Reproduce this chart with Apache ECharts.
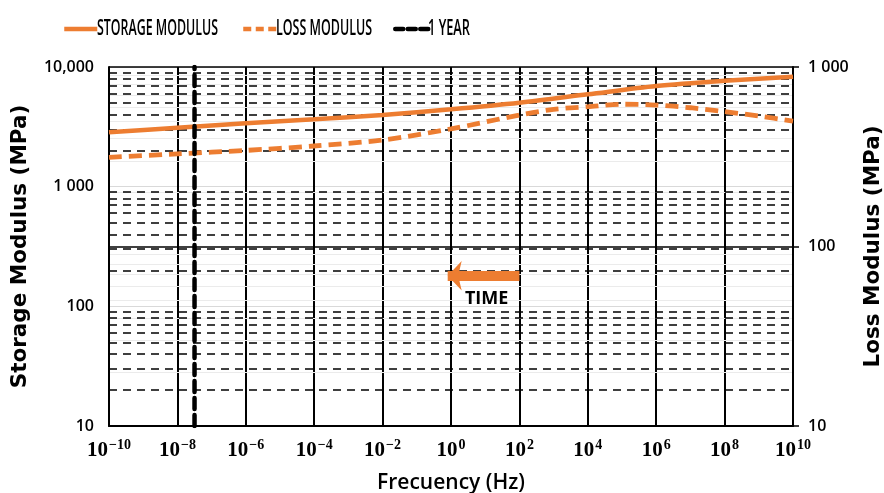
<!DOCTYPE html>
<html><head><meta charset="utf-8">
<script src="https://cdn.jsdelivr.net/npm/echarts@6/dist/echarts.min.js"></script>
<style>html,body{margin:0;padding:0;background:#fff}#c{width:884px;height:493px}</style>
</head><body><div id="c"></div>
<script>
// ---- data ----
const storageFreqHz = [1e-10, 1e-8, 1e-6, 1e-4, 1e-2, 1, 1e2, 1e4, 1e6, 1e8, 1e10];
const storageMPa    = [2850, 3110, 3385, 3655, 3970, 4430, 5030, 5910, 6940, 7680, 8300];
const lossFreqHz = [1e-10, 1e-8, 1e-6, 1e-4, 1e-2, 1, 1e2, 1e3, 1e4, 1e5, 1e6, 1e7, 1e8, 1e9, 1e10];
const lossMPa    = [314, 328, 343, 363, 392, 452, 540, 581, 601, 620, 614, 593, 564, 533, 500];
const oneYearHz = 1 / (365.25 * 86400);
const seriesNames = ['STORAGE MODULUS', 'LOSS MODULUS', '1 YEAR'];
const leftMinorGrid  = [20,30,40,50,60,70,80,90,200,300,400,500,600,700,800,900,2000,3000,4000,5000,6000,7000,8000,9000];
const rightMinorGrid = [20,30,40,50,60,70,80,90,200,300,400,500,600,700,800,900];
const leftTickLabels  = {10:'10', 100:'100', 1000:'1 000', 10000:'10,000'};
const rightTickLabels = {10:'10', 100:'100', 1000:'1 000'};
const timeArrowHz = [100, 0.8];
const timeArrowMPa = 180;
const timeLabelAt = [11, 116];
const timeLabel = 'TIME';

// layout of the legend (icon left edge, text left edge, text width)
const legendIconLeft = [62, 241, 393];
const legendTextLeft = [97, 276, 428];
const legendTextWidth = [121, 96, 42];

const ORANGE = '#ED7D31';
const chart = echarts.init(document.getElementById('c'));
const sansBold = {fontFamily:'Open Sans', fontWeight:600, color:'#000'};
const titleFont = {fontFamily:'DejaVu Sans', fontWeight:'bold', color:'#000', fontSize:21.5};
const LEGEND_FONT = '600 21px "Open Sans"';
const measureCtx = document.createElement('canvas').getContext('2d');
measureCtx.font = LEGEND_FONT;
const fitScale = (txt, w) => w / measureCtx.measureText(txt).width;

const legendBase = {
  top: 23, padding: 0, itemWidth: 33, itemHeight: 12,
  itemStyle: {opacity: 0},
  lineStyle: {width: 4.5},
  formatter: () => '',
  textStyle: {fontSize: 1}
};
const legendLines = [{}, {type:[8,4.5], width:4.5}, {type:[8,4.5], width:4.5}];

chart.setOption({
  animation: false,
  legend: seriesNames.map((n, i) => Object.assign({}, legendBase, {
    left: legendIconLeft[i], data: [{name: n, lineStyle: legendLines[i]}]
  })),
  graphic: seriesNames.map((n, i) => ({
    type: 'text', x: legendTextLeft[i], y: 29, silent: true,
    scaleX: fitScale(n, legendTextWidth[i]), scaleY: 1,
    style: {text: n, font: LEGEND_FONT, fill: '#000', align: 'left', verticalAlign: 'middle'}
  })),
  grid: {left:109, right:91, top:67, bottom:67, outerBoundsMode:'none', containLabel:false},
  xAxis: {
    type:'log', logBase:10, min:1e-10, max:1e10, interval:2,
    axisLine:{show:true, lineStyle:{color:'#000', width:2}},
    axisTick:{show:false},
    splitLine:{show:true, lineStyle:{color:'#000', width:2}},
    axisLabel:{
      margin: 12,
      formatter: v => { const e = Math.round(Math.log10(v)); return '{b|10}{s|' + (e < 0 ? '\u2212' + (-e) : e) + '}'; },
      rich: {
        b: {fontFamily:'Liberation Serif', fontWeight:'bold', fontSize:21, color:'#000'},
        s: {fontFamily:'Liberation Serif', fontWeight:'bold', fontSize:14, color:'#000', padding:[0,0,11,1]}
      }
    },
    name:'Frecuency (Hz)', nameLocation:'middle', nameGap:47,
    nameTextStyle: Object.assign({}, sansBold, {fontSize:21})
  },
  yAxis: [
    {
      type:'log', logBase:10, min:10, max:10000, interval:1, position:'left',
      axisLine:{show:true, lineStyle:{color:'#000', width:2}},
      axisTick:{show:false},
      splitLine:{show:true, lineStyle:{color:'#d9d9d9', width:1}},
      axisLabel: Object.assign({fontSize:16, margin:15, formatter: v => leftTickLabels[Math.round(v)] || ''}, sansBold),
      name:'Storage Modulus (MPa)', nameLocation:'middle', nameGap:78,
      nameTextStyle: titleFont
    },
    {
      type:'log', logBase:10, min:10, max:1000, interval:1, position:'right',
      axisLine:{show:true, lineStyle:{color:'#000', width:2}},
      axisTick:{show:true, length:6, lineStyle:{color:'#000', width:1.5}},
      splitLine:{show:true, lineStyle:{color:'#000', width:1.5}},
      axisLabel: Object.assign({fontSize:16, margin:15, formatter: v => rightTickLabels[Math.round(v)] || ''}, sansBold),
      name:'Loss Modulus (MPa)', nameLocation:'middle', nameGap:69, nameRotate:90,
      nameTextStyle: titleFont
    }
  ],
  series: [
    {
      name:'grid-left', type:'line', yAxisIndex:0, data:[], silent:true, z:1,
      markLine:{silent:true, symbol:'none', z:1, animation:false, label:{show:false},
        lineStyle:{color:'#000', width:1.5, type:[8,6]},
        emphasis:{disabled:true},
        data: leftMinorGrid.map(v => ({yAxis:v}))}
    },
    {
      name:'grid-right', type:'line', yAxisIndex:1, data:[], silent:true, z:0,
      markLine:{silent:true, symbol:'none', z:0, animation:false, label:{show:false},
        lineStyle:{color:'#ebebeb', width:1, type:'solid'},
        emphasis:{disabled:true},
        data: rightMinorGrid.map(v => ({yAxis:v}))}
    },
    {
      name: seriesNames[0], type:'line', yAxisIndex:0, smooth:0.3, symbol:'none', z:3,
      lineStyle:{color:ORANGE, width:4.5}, itemStyle:{color:ORANGE},
      data: storageFreqHz.map((f,i) => [f, storageMPa[i]])
    },
    {
      name: seriesNames[1], type:'line', yAxisIndex:1, smooth:0.3, symbol:'none', z:3,
      lineStyle:{color:ORANGE, width:4.8, type:[13,7]}, itemStyle:{color:ORANGE},
      data: lossFreqHz.map((f,i) => [f, lossMPa[i]])
    },
    {
      name: seriesNames[2], type:'line', yAxisIndex:0, symbol:'none', z:5,
      lineStyle:{color:'#000', width:4.5, type:[11,6], cap:'round'}, itemStyle:{color:'#000'},
      data: [[oneYearHz, 10], [oneYearHz, 10000]]
    },
    {
      name:'time-arrow', type:'line', yAxisIndex:0, data:[], silent:true, z:4,
      markLine:{silent:true, z:4, animation:false, label:{show:false}, symbol:['none','arrow'], symbolSize:[22,14],
        lineStyle:{color:ORANGE, width:10, type:'solid'},
        emphasis:{disabled:true},
        data: [[{coord:[timeArrowHz[0], timeArrowMPa]}, {coord:[timeArrowHz[1], timeArrowMPa]}]]},
      markPoint:{silent:true, z:4, animation:false, symbol:'rect', symbolSize:1, itemStyle:{color:'rgba(0,0,0,0)'},
        label:{show:true, position:'inside', formatter: timeLabel, fontFamily:'Open Sans', fontWeight:700, fontSize:18, color:'#000'},
        data: [{coord: timeLabelAt}]}
    }
  ]
});
</script></body></html>
